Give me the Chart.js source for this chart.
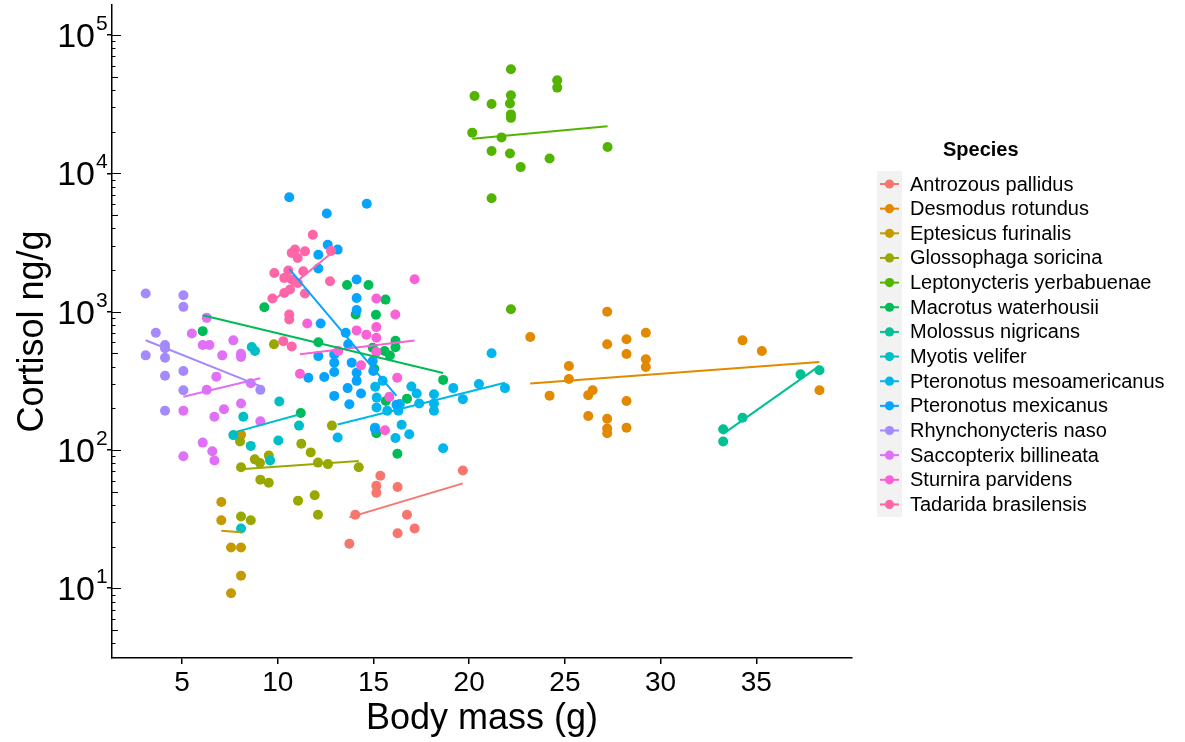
<!DOCTYPE html>
<html>
<head>
<meta charset="utf-8">
<script src="https://cdn.jsdelivr.net/npm/chart.js@4.4.0/dist/chart.umd.min.js"></script>
<style>
html,body{margin:0;padding:0;background:#ffffff;}
canvas{display:block;}
</style>
</head>
<body>
<canvas id="chart" width="1185" height="742"></canvas>
<script>
// ---------- data ----------
const speciesNames = [
  "Antrozous pallidus","Desmodus rotundus","Eptesicus furinalis","Glossophaga soricina",
  "Leptonycteris yerbabuenae","Macrotus waterhousii","Molossus nigricans","Myotis velifer",
  "Pteronotus mesoamericanus","Pteronotus mexicanus","Rhynchonycteris naso",
  "Saccopterix billineata","Sturnira parvidens","Tadarida brasilensis"
];
const speciesColors = [
  "#F8766D","#E38900","#C49A00","#99A800","#53B400","#00BC56","#00C094",
  "#00BFC4","#00B6EB","#06A4FF","#A58AFF","#DF70F8","#FB61D7","#FF66A8"
];

const antrozousMass = [15.36,15.15,15.15,16.26,19.67,14.05,16.75,17.15,16.26,13.74];
const antrozousCort = [65,55,49,54,71,34,34,27,25,21];

const desmodusMass = [27.21,23.19,29.23,27.21,28.22,28.22,29.23,29.23,25.21,25.21,24.20,26.22,26.45,28.22,26.22,27.21,27.21,27.21,28.22,34.28,35.29,38.30];
const desmodusCort = [998,655,703,581,631,494,453,398,405,326,247,249,270,226,176,168,143,132,145,620,519,270];

const eptesicusMass = [7.05,7.05,8.08,7.56,8.08,8.08,7.56];
const eptesicusCort = [42,31,129,19.7,19.7,12.3,9.2];

const glossophagaMass = [9.80,11.23,11.72,12.83,9.53,8.80,9.07,8.08,12.10,12.62,14.23,9.09,9.53,11.93,11.06,12.10,8.08,8.59,8.03];
const glossophagaCort = [581,111,96,150,91,85.5,80.5,75,81,79,75,61,58,47,43,34,33,31,115];

const leptonycterisMass = [22.18,24.60,24.60,20.28,21.17,22.18,22.13,22.18,22.18,20.16,21.69,27.23,21.17,22.13,24.20,22.69,21.17,22.18];
const leptonycterisCort = [56600,47100,41700,36300,31700,36700,32000,26700,25200,19700,18200,15500,14500,13900,12800,11100,6600,1040];

const macrotusMass = [6.08,9.30,11.20,13.62,14.74,15.63,14.07,15.13,12.12,16.15,16.15,15.58,15.86,14.96,15.04,18.64,16.75,15.65,15.15,16.25];
const macrotusCort = [723,1077,185,1560,1560,1222,955,949,600,616,553,519,482,549,387,321,235,226,132,94];

const molossusMass = [33.27,33.27,34.28,37.31,38.30];
const molossusCort = [141,115,171,352,377];

const myotisMass = [8.64,8.81,10.08,8.20,7.68,8.59,10.03,11.11,9.60,8.08];
const myotisCort = [555,519,224,174,128,107,117,150,84,27];

const mesoMass = [21.17,16.98,17.26,18.16,19.17,20.51,21.87,19.67,17.39,18.16,18.16,16.38,16.30,15.72,16.47,16.87,16.15,18.64,15.16,15.17,15.08,13.13,15.48,15.09];
const mesoCort = [500,288,256,253,280,300,280,233,217,217,192,215,192,192,152,130,122,103,203,239,145,123,316,286];

const mexicanusMass = [10.60,12.56,14.65,12.61,12.12,13.13,12.12,14.12,14.12,14.12,12.24,13.55,13.68,12.95,12.95,12.95,12.12,13.86,14.12,11.60,12.43,14.99,14.12,13.65,14.35,12.95,13.74,15.08,14.96,16.20];
const mexicanusCort = [6710,5130,6030,3050,2580,2810,2050,1707,1257,1026,822,703,581,491,428,366,477,428,362,333,337,372,316,280,256,246,214,142,440,212];

const rhynchoMass = [3.10,5.07,5.07,3.63,4.11,4.11,3.10,4.11,5.07,4.11,5.07,4.11,9.09];
const rhynchoCort = [1352,1315,1083,703,574,543,483,464,372,344,270,192,272];

const saccopterixMass = [6.29,5.51,6.08,6.43,7.68,7.10,8.08,8.08,6.79,8.59,6.29,8.08,7.19,6.69,5.07,9.09,6.08,6.58,6.69,5.07];
const saccopterixCort = [902,696,574,574,620,483,496,470,339,304,272,217,197,174,192,161,113,98,84,90];

const sturniraMass = [17.15,15.15,16.14,14.12,14.63,15.15,15.15,13.16,15.15,14.35,16.24,15.83,15.60,11.16,11.54];
const sturniraCort = [1714,1245,955,732,682,773,647,519,510,409,333,242,139,356,822];

const tadaridaMass = [11.83,10.90,10.73,11.42,11.04,9.82,10.55,11.33,10.34,10.73,11.04,12.73,10.64,10.34,11.42,9.72,10.60,10.60,10.29,10.73,12.78];
const tadaridaCort = [3600,2810,2660,2730,2440,1906,1983,1958,1754,1707,1613,1660,1445,1366,1352,1245,955,879,612,559,2750];

const xTicks = [5,10,15,20,25,30,35];
const yTicks = [10,100,1000,10000,100000];

const massBySpecies = [antrozousMass,desmodusMass,eptesicusMass,glossophagaMass,leptonycterisMass,macrotusMass,molossusMass,myotisMass,mesoMass,mexicanusMass,rhynchoMass,saccopterixMass,sturniraMass,tadaridaMass];
const cortBySpecies = [antrozousCort,desmodusCort,eptesicusCort,glossophagaCort,leptonycterisCort,macrotusCort,molossusCort,myotisCort,mesoCort,mexicanusCort,rhynchoCort,saccopterixCort,sturniraCort,tadaridaCort];

// ---------- linear fit on log10 scale (like geom_smooth(method="lm") with log y) ----------
function logFit(xs, ys){
  const n = xs.length;
  const ly = ys.map(v => Math.log10(v));
  const mx = xs.reduce((a,b)=>a+b,0)/n;
  const my = ly.reduce((a,b)=>a+b,0)/n;
  let sxy = 0, sxx = 0;
  for (let i=0;i<n;i++){ sxy += (xs[i]-mx)*(ly[i]-my); sxx += (xs[i]-mx)*(xs[i]-mx); }
  const b = sxy/sxx, a = my - b*mx;
  const x0 = Math.min(...xs), x1 = Math.max(...xs);
  return [{x:x0, y:Math.pow(10, a+b*x0)}, {x:x1, y:Math.pow(10, a+b*x1)}];
}

const datasets = [];
speciesNames.forEach((name, i) => {
  datasets.push({
    type:'scatter',
    label:name,
    data: massBySpecies[i].map((x,j)=>({x:x, y:cortBySpecies[i][j]})),
    backgroundColor: speciesColors[i],
    borderWidth:0,
    pointRadius:5,
    pointHoverRadius:5,
    order: 100 - i
  });
});
speciesNames.forEach((name, i) => {
  datasets.push({
    type:'line',
    label:name + ' fit',
    data: logFit(massBySpecies[i], cortBySpecies[i]),
    borderColor: speciesColors[i],
    borderWidth:2,
    pointRadius:0,
    fill:false,
    tension:0,
    order: 0
  });
});

const FONT = "'Liberation Sans', Arial, Helvetica, sans-serif";

const decor = {
  id:'decor',
  afterDraw(chart){
    const ctx = chart.ctx;
    const area = chart.chartArea;
    const ys = chart.scales.y;
    ctx.save();
    // log ticks inside the panel (annotation_logticks)
    ctx.strokeStyle = '#000';
    ctx.lineWidth = 1;
    for (let k=0;k<=5;k++){
      for (let m=1;m<=9;m++){
        const v = m*Math.pow(10,k);
        if (v < ys.min || v > ys.max) continue;
        const py = Math.round(ys.getPixelForValue(v)) + 0.5;
        const len = m===1 ? 9 : (m===5 ? 6 : 3.5);
        ctx.beginPath();
        ctx.moveTo(area.left, py);
        ctx.lineTo(area.left + len, py);
        ctx.stroke();
      }
    }
    // y tick labels 10^k
    ctx.fillStyle = '#000';
    yTicks.forEach(v => {
      const py = ys.getPixelForValue(v);
      const e = Math.round(Math.log10(v));
      ctx.font = '34px ' + FONT;
      ctx.textAlign = 'right';
      ctx.textBaseline = 'alphabetic';
      ctx.fillText('10', 95, py + 12);
      ctx.font = '21px ' + FONT;
      ctx.textAlign = 'left';
      ctx.fillText(String(e), 96, py - 5);
    });
    // axis titles
    ctx.font = '36px ' + FONT;
    ctx.textAlign = 'center';
    ctx.textBaseline = 'alphabetic';
    ctx.fillText('Body mass (g)', (area.left + area.right)/2, 729);
    ctx.save();
    ctx.translate(43, (area.top + area.bottom)/2);
    ctx.rotate(-Math.PI/2);
    ctx.fillText('Cortisol ng/g', 0, 0);
    ctx.restore();
    // legend
    const lx = 877, ly0 = 184, step = 24.65;
    ctx.fillStyle = '#F2F2F2';
    ctx.fillRect(lx, 171, 25, 346);
    ctx.fillStyle = '#000';
    ctx.font = 'bold 20px ' + FONT;
    ctx.textAlign = 'left';
    ctx.fillText('Species', 943, 156);
    ctx.font = '20px ' + FONT;
    speciesNames.forEach((name, i) => {
      const cy = ly0 + i*step;
      ctx.strokeStyle = speciesColors[i];
      ctx.lineWidth = 2;
      ctx.beginPath();
      ctx.moveTo(lx + 3, cy);
      ctx.lineTo(lx + 22, cy);
      ctx.stroke();
      ctx.fillStyle = speciesColors[i];
      ctx.beginPath();
      ctx.arc(lx + 12.5, cy, 4.6, 0, Math.PI*2);
      ctx.fill();
      ctx.fillStyle = '#000';
      ctx.textBaseline = 'middle';
      ctx.fillText(name, 910, cy + 1);
    });
    ctx.restore();
  }
};

new Chart(document.getElementById('chart').getContext('2d'), {
  type:'scatter',
  data:{datasets},
  options:{
    responsive:false,
    animation:false,
    devicePixelRatio:1,
    layout:{padding:{left:0,right:333,top:3,bottom:0}},
    plugins:{legend:{display:false}, tooltip:{enabled:false}},
    scales:{
      x:{
        type:'linear', min:1.34, max:40.0, bounds:'data',
        afterBuildTicks:(s)=>{ s.ticks = xTicks.map(v=>({value:v})); },
        afterFit:(s)=>{ s.height = 84; },
        grid:{drawOnChartArea:false, drawTicks:true, tickLength:6, color:'#000', lineWidth:1.5},
        border:{display:true, color:'#000', width:1.5},
        ticks:{color:'#000', font:{family:FONT, size:28}, padding:2, maxRotation:0, autoSkip:false, callback:(v)=>String(v)}
      },
      y:{
        type:'logarithmic', min:3.13, max:1.65e5, bounds:'data',
        afterBuildTicks:(s)=>{ s.ticks = yTicks.map(v=>({value:v})); },
        afterFit:(s)=>{ s.width = 112; },
        grid:{drawOnChartArea:false, drawTicks:true, tickLength:5, color:'#000', lineWidth:1.5},
        border:{display:true, color:'#000', width:1.5},
        ticks:{display:false, autoSkip:false}
      }
    }
  },
  plugins:[decor]
});
</script>
</body>
</html>
